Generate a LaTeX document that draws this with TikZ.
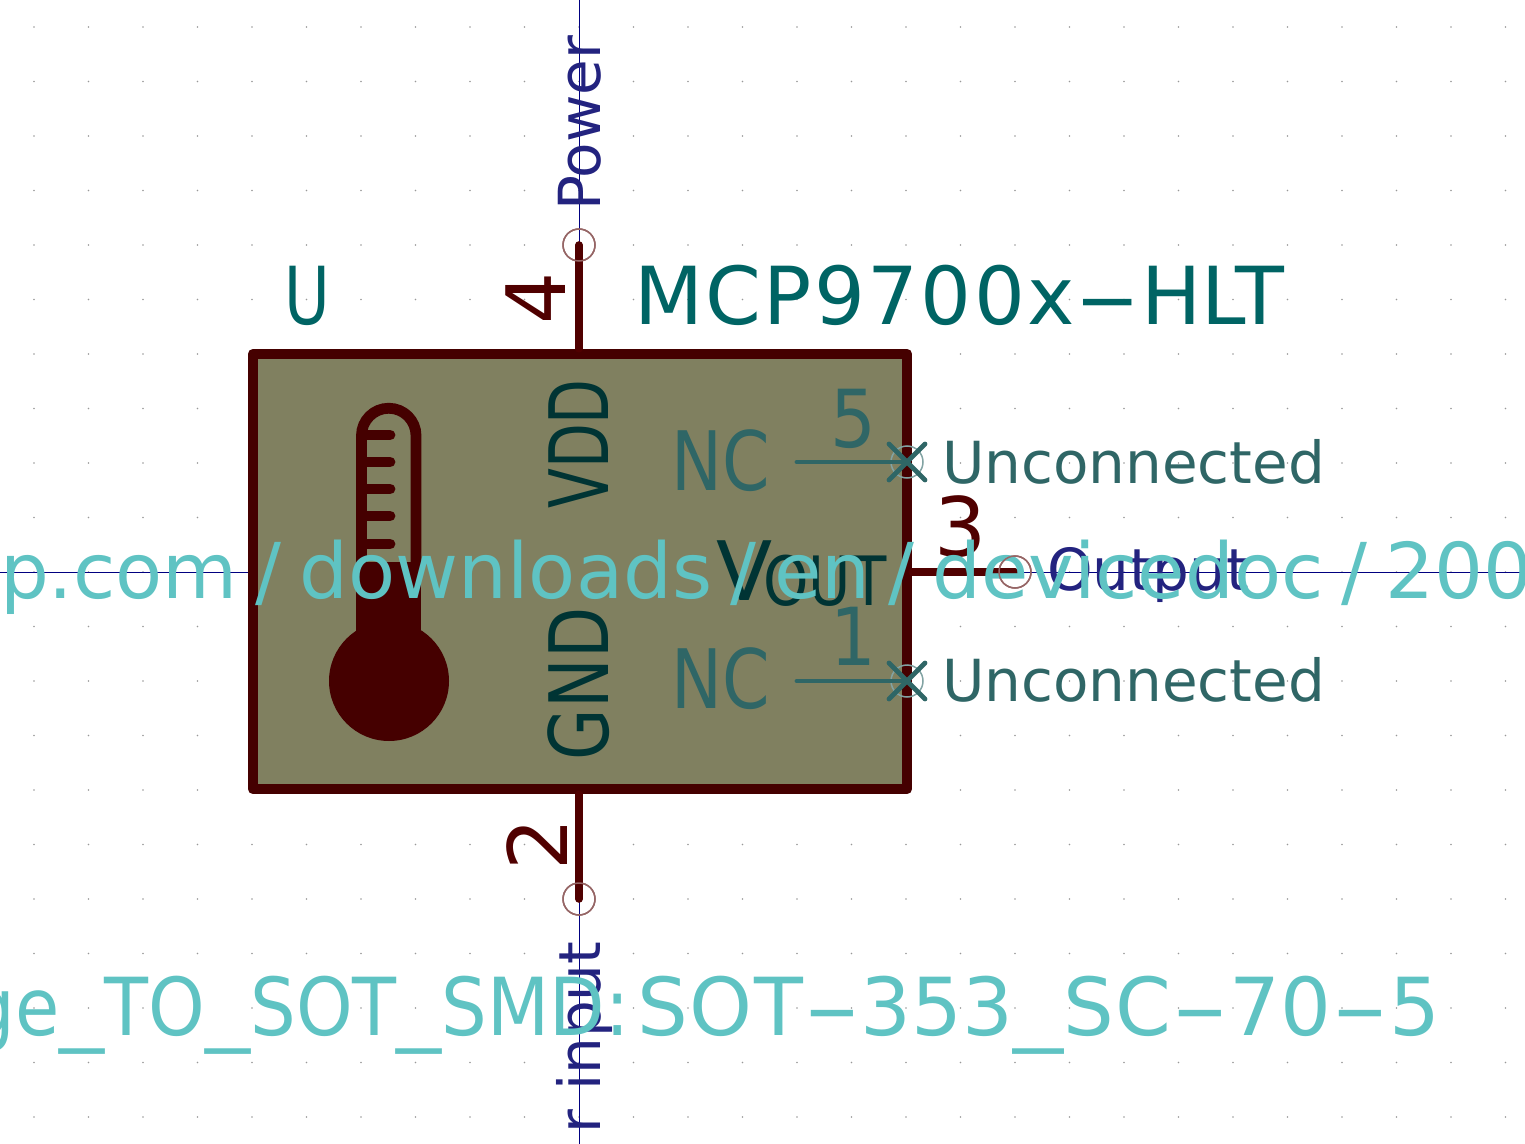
\documentclass[tikz,border=0pt]{standalone}
\usepackage{fontspec}
\setmainfont{DejaVu Sans}
\newfontfamily\spaced[LetterSpace=3]{DejaVu Sans}
\newfontfamily\slightspaced[LetterSpace=2]{DejaVu Sans}
\usetikzlibrary{positioning}

\definecolor{bodyfill}{HTML}{808060}
\definecolor{bodyline}{HTML}{450000}
\definecolor{pincol}{HTML}{500000}
\definecolor{refcol}{HTML}{006464}
\definecolor{greycol}{HTML}{2F6666}
\definecolor{pinname}{HTML}{003434}
\definecolor{typecol}{HTML}{23237F}
\definecolor{fieldcol}{HTML}{5FC3C3}
\definecolor{wirecol}{HTML}{000080}

\newcommand{\wideslash}{\kern9pt/\kern9pt}
\newcommand{\widedash}[1]{\scalebox{#1}[1]{-}}
\newcommand{\widebar}{\scalebox{1.25}[1]{\_}}
\newcommand{\fsz}[1]{\fontsize{#1}{#1}\selectfont}

\tikzset{
	label text/.style = {inner sep=0pt, outer sep=0pt},
	ref text/.style = {label text, text=refcol, font=\fsz{40}},
	pin number/.style = {label text, text=pincol, font=\fsz{41}},
	nc number/.style = {label text, text=greycol, font=\fsz{40}, xscale=.9},
	nc name/.style = {label text, text=greycol, font=\fsz{41}, xscale=.83},
	pin name/.style = {label text, text=pinname, font=\fsz{41}},
	pin type/.style = {label text, text=typecol, font=\fsz{29}},
	nc text/.style = {label text, text=greycol, font=\fsz{29}},
	field text/.style = {label text, text=fieldcol, font=\fsz{38.5}},
	pin end/.style = {circle, draw=pincol!60!white, line width=.75pt, minimum size=16pt, inner sep=0pt},
	nc end/.style = {circle, draw=greycol!60!white, line width=.75pt, minimum size=16pt, inner sep=0pt},
	pin line/.style = {draw=pincol, line width=3.8pt, line cap=round},
	nc line/.style = {draw=greycol, line width=2.4pt, line cap=round},
	wire/.style = {draw=wirecol, line width=.5pt},
	thermo/.style = {draw=bodyline, line width=5.4pt, line cap=round},
}

\begin{document}
\begin{tikzpicture}[x=.5pt, y=-.5pt]
	\useasboundingbox (0,0) rectangle (1525,1144);
	\clip (0,0) rectangle (1525,1144);

	% grid
	\foreach \i in {0,...,27}
		\foreach \j in {0,...,20}
			\fill [black!40] (34+54.5*\i, 27+54.5*\j) circle (.9);

	% edges of the window
	\coordinate (top) at (579,0);
	\coordinate (bottom) at (579,1144);
	\coordinate (left) at (0,572);
	\coordinate (right) at (1525,572);

	\node (body) [draw=bodyline, fill=bodyfill, line width=5.3pt, line join=round,
		minimum width=327pt, minimum height=217.5pt, inner sep=0pt] at (580,571.5) {};

	\node (p4) [pin end] at (579,245) {};
	\node (p2) [pin end] at (579,899) {};
	\node (p3) [pin end] at (1015,572) {};
	\node (p5) [nc end] at (907,462) {};
	\node (p1) [nc end] at (907,681) {};

	\path [wire]
		(top) edge (p4.center)
		(p2.center) edge (bottom)
		(p3.center) edge (right)
		(left) edge (body.west |- left);

	\path [pin line]
		(p4.center |- body.north) edge (p4.center)
		(p2.center |- body.south) edge (p2.center)
		(body.east |- p3.center) edge (p3.center);

	\coordinate (s5) at (797,462);
	\coordinate (s1) at (797,681);
	\path [nc line]
		(s5) edge (p5.center)
		(s1) edge (p1.center)
		(889,444) edge (925,480)
		(889,480) edge (925,444)
		(889,663) edge (925,699)
		(889,699) edge (925,663);

	% thermometer
	\draw [thermo] (361.5,562) -- (361.5,435.5) arc (180:360:27.25) -- (416,562);
	\foreach \y in {435,462,489,516,544}
		\draw [thermo] (361.5,\y) -- (390,\y);
	\fill [bodyline] (356,562) rectangle (421,650);
	\fill [bodyline] (389,681) circle (60);

	% texts
	\node (ref) [ref text, anchor=base, xscale=.78] at (307,325) {U};
	\node (value) [ref text, anchor=base] at (959,325) {{\spaced MCP9700x}\widedash{2.3}HLT};

	\node (n4) [pin number, anchor=base, rotate=90] at (565,298) {4};
	\node (n2) [pin number, anchor=base, rotate=90] at (567,844) {2};
	\node (n3) [pin number, anchor=base] at (961,556) {3};
	\node (n5) [nc number, anchor=base] at (853,447) {5};
	\node (n1) [nc number, anchor=base] at (853,665) {1};

	\node (vdd) [pin name, anchor=base, rotate=90, xscale=.71] at (608,444) {VDD};
	\node (gnd) [pin name, anchor=base, rotate=90, xscale=.81] at (608,684) {GND};
	\node (v) [pin name, anchor=base] at (745,600) {V};
	\node (out) [pin name, anchor=base, font=\fsz{34}, xscale=.85] at (825,605) {OUT};
	\node (nc5) [nc name, anchor=base] at (721,490) {NC};
	\node (nc1) [nc name, anchor=base] at (721,708) {NC};

	\node (unc5) [nc text, anchor=base west] at (942,483) {Unconnected};
	\node (unc1) [nc text, anchor=base west] at (942,701) {Unconnected};

	\node (power) [pin type, anchor=base west, rotate=90] at (600,211) {Power};
	\node (input) [pin type, anchor=base west, rotate=90] at (600,1133) {r input};
	\node (output) [pin type, anchor=base] at (1148,590) {Output};

	\node (url) [field text, anchor=base west] at (0,598) {p.com\wideslash downloads\wideslash en\wideslash devicedoc\wideslash 200};
	\node (footprint) [field text, font=\fsz{40}, anchor=base east] at (1440,1035) {\scalebox{.9}[1]{ge\widebar TO\widebar SOT\widebar SMD:}\kern4pt{\slightspaced SOT}\widedash{2}353\widebar{\slightspaced SC}\widedash{2}70\widedash{2}5};

	% pin ends come on top of the fields
	\node (p4top) [pin end] at (p4) {};
	\node (p2top) [pin end] at (p2) {};
	\node (p3top) [pin end] at (p3) {};
\end{tikzpicture}
\end{document}
